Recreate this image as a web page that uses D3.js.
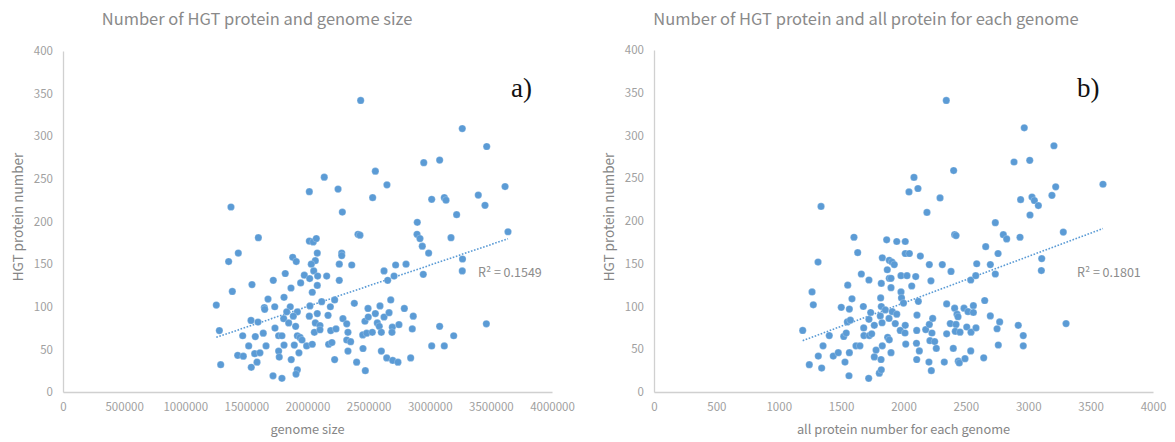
<!DOCTYPE html>
<html>
<head>
<meta charset="utf-8">
<script src="https://cdn.jsdelivr.net/npm/d3@7"></script>
<style>
  body { margin: 0; background: #fff; }
  svg { display: block; }
</style>
</head>
<body>
<svg id="chart" width="1175" height="442"></svg>
<script>
// ---- data -------------------------------------------------------------
// Panel a: genome size (bp) vs number of HGT proteins
const genomeSize = [
  1374000,1598000,1434000,1355000,1546000,1385000,1254000,1279000,1290000,
  2137000,2015000,2250000,2555000,2650000,2533000,2285000,
  2015000,2047000,2072000,2413000,2429000,
  2080000,2280000,2280000,1879000,1908000,2064000,2031000,2260000,2362000,2051000,
  1818000,1974000,2018000,2083000,2157000,1720000,1944000,2260000,1865000,2080000,
  2039000,1677000,1808000,1647000,1650000,1732000,1859000,2020000,2116000,2187000,
  2222000,2383000,2495000,2593000,2681000,2792000,1830000,1917000,1884000,2015000,
  2080000,2168000,2290000,2470000,2555000,2626000,2667000,2865000,1538000,1595000,
  1805000,1846000,1903000,2064000,2102000,2321000,2497000,2571000,2587000,2694000,
  2748000,1470000,1573000,1638000,1734000,1764000,1791000,1917000,1939000,2056000,
  2102000,2190000,2233000,2331000,2452000,2484000,2530000,2604000,2691000,2857000,
  1519000,1661000,1808000,1892000,1955000,1993000,2039000,2173000,2200000,2321000,
  2353000,2454000,1429000,1475000,1568000,1611000,1764000,1930000,2331000,2604000,
  1769000,1587000,1540000,1867000,2222000,2402000,2648000,2697000,2740000,2844000,
  1718000,1791000,1917000,1906000,2473000,
  2435000,3266000,3466000,2951000,3081000,3016000,3119000,3133000,3397000,3616000,
  3452000,3220000,2898000,2896000,2920000,2939000,3174000,2991000,3640000,3268000,
  3266000,2947000,2806000,2721000,2626000,2656000,2708000,3463000,3081000,3196000,
  3016000,3119000
];
const hgtA = [
  217,181,163,153,126,118,102,72,32,
  252,235,238,259,243,228,211,
  177,176,180,185,184,
  163,163,160,158,153,154,150,150,149,142,
  139,137,133,136,136,131,128,131,122,125,
  117,109,111,99,97,100,100,101,106,100,
  108,104,98,101,108,98,94,94,89,89,
  92,90,86,83,92,88,93,89,84,82,
  86,81,77,81,78,80,88,81,77,76,
  79,66,65,69,75,66,66,66,64,70,
  73,72,74,70,67,69,70,70,70,74,
  54,54,55,55,61,54,56,56,58,61,
  59,51,43,42,45,46,48,46,48,48,
  41,35,29,38,38,35,40,37,35,40,
  19,16,26,21,25,
  342,309,288,269,272,226,228,225,231,241,
  219,208,199,185,180,171,181,163,188,156,
  142,138,150,149,142,131,136,80,77,66,
  54,54
];

// Panel b: total protein count per genome vs number of HGT proteins
const proteinCount = [
  1339,1603,1633,1315,1662,1553,1267,1277,1192,1245,
  1344,1317,1355,1405,1437,1477,1531,1563,1566,1521,
  1541,1550,1574,1501,1566,1587,1678,1723,1619,1651,
  1683,1726,1745,1681,1723,1737,1766,1721,1780,1766,
  1820,1806,1822,1830,1873,1886,1900,1817,1822,1822,
  1830,1865,1870,1886,1908,1926,1886,1900,1900,1946,
  2014,2014,2047,2135,1980,2028,2098,2066,1980,1984,
  2000,1854,1910,1946,1814,1828,1884,1934,2014,1974,
  2012,2018,2108,2106,2104,2127,2106,2119,2207,2220,
  2311,2381,2178,2207,2234,2228,2212,2250,2263,2204,
  2223,2327,2346,2346,2410,2429,2437,2375,2421,2415,
  2453,2399,2439,2447,2485,2517,2560,2560,2507,2541,
  2581,2539,2493,2651,2696,2771,2750,2760,2643,2539,
  2579,2587,2659,2696,2736,2758,2736,2800,2827,2084,
  2044,2116,2402,2293,2188,2410,2421,2343,2968,3206,
  2886,3012,3599,3220,3190,2939,3030,3049,3081,3014,
  3281,2934,3108,3105,3303,2920,2960,2960
];
const hgtB = [
  217,181,163,152,138,125,117,102,72,32,
  28,42,54,66,42,46,35,19,46,65,
  69,82,84,99,97,109,100,131,54,54,
  66,66,68,75,85,93,78,16,49,41,
  38,22,26,54,64,61,46,110,100,127,
  157,178,143,154,152,149,133,133,122,176,
  176,162,162,159,136,136,135,124,117,110,
  104,96,94,91,89,81,86,80,78,72,
  69,56,90,72,57,48,38,106,149,130,
  149,141,73,79,86,69,60,59,51,35,
  25,35,103,68,98,91,88,80,79,71,
  70,51,36,34,98,94,101,93,76,70,
  75,48,39,107,89,82,74,55,40,131,
  136,150,170,149,138,162,198,184,179,251,
  234,238,259,227,210,184,183,341,309,288,
  269,271,243,240,230,225,228,224,218,207,
  187,181,156,142,80,78,66,54
];

// Axis ticks
const yTicks = [0, 50, 100, 150, 200, 250, 300, 350, 400];
const xTicksA = [0, 500000, 1000000, 1500000, 2000000, 2500000, 3000000, 3500000, 4000000];
const xTicksB = [0, 500, 1000, 1500, 2000, 2500, 3000, 3500, 4000];

// Text
const titleA = "Number of HGT protein and genome size";
const titleB = "Number of HGT protein and all protein for each genome";
const xTitleA = "genome size";
const xTitleB = "all protein number for each genome";
const yTitle = "HGT protein number";
const r2A = "R\u00B2 = 0.1549";
const r2B = "R\u00B2 = 0.1801";

// ---- drawing ----------------------------------------------------------
const FONT = "'Noto Sans CJK JP', 'Noto Sans', sans-serif";
const BLUE = "#5B9BD5";
const svg = d3.select("#chart").attr("font-family", FONT);
svg.append("rect").attr("width", 1175).attr("height", 442).attr("fill", "#fff");

function drawPanel(p) {
  const g = svg.append("g");
  const x = d3.scaleLinear().domain([0, p.xTicks[p.xTicks.length - 1]]).range([p.left, p.right]);
  const y = d3.scaleLinear().domain([0, 400]).range([p.bottom, p.top]);

  const xAxis = g.append("g")
    .attr("transform", `translate(0,${p.bottom})`)
    .call(d3.axisBottom(x).tickValues(p.xTicks).tickSize(0).tickPadding(11).tickFormat(d3.format("d")));
  const yAxis = g.append("g")
    .attr("transform", `translate(${p.left},0)`)
    .call(d3.axisLeft(y).tickValues(yTicks).tickSize(0).tickPadding(10).tickFormat(d3.format("d")));
  [xAxis, yAxis].forEach(a => {
    a.select(".domain").attr("stroke", "#d0d0d0").attr("stroke-width", 1.3);
    a.selectAll("text").attr("fill", "#a0a0a0").attr("font-size", "11.5px").attr("font-family", FONT);
  });

  // least-squares trendline over the data range
  const n = p.xs.length;
  const mx = d3.mean(p.xs), my = d3.mean(p.ys);
  let sxy = 0, sxx = 0;
  for (let i = 0; i < n; i++) {
    sxy += (p.xs[i] - mx) * (p.ys[i] - my);
    sxx += (p.xs[i] - mx) ** 2;
  }
  const slope = sxy / sxx, icpt = my - slope * mx;
  const [x0, x1] = d3.extent(p.xs);
  g.append("line")
    .attr("x1", x(x0)).attr("y1", y(icpt + slope * x0))
    .attr("x2", x(x1)).attr("y2", y(icpt + slope * x1))
    .attr("stroke", BLUE).attr("stroke-width", 1.6)
    .attr("stroke-dasharray", "1.6 1.6");

  // markers
  g.append("g").selectAll("circle")
    .data(p.xs.map((v, i) => [v, p.ys[i]]))
    .join("circle")
    .attr("cx", d => x(d[0]))
    .attr("cy", d => y(d[1]))
    .attr("r", 3.6)
    .attr("fill", BLUE)
    .attr("stroke", "#ffffff")
    .attr("stroke-opacity", 0.35)
    .attr("stroke-width", 0.6);

  // titles and labels
  g.append("text").text(p.title)
    .attr("x", p.titleX).attr("y", 25)
    .attr("text-anchor", "middle").attr("font-size", "16.5px").attr("fill", "#8a8a8a");
  g.append("text").text(p.xTitle)
    .attr("x", (p.left + p.right) / 2).attr("y", 434)
    .attr("text-anchor", "middle").attr("font-size", "12.8px").attr("fill", "#858585");
  g.append("text").text(yTitle)
    .attr("transform", `translate(${p.yTitleX},217) rotate(-90)`)
    .attr("text-anchor", "middle").attr("font-size", "13.5px").attr("fill", "#858585");
  g.append("text").text(p.r2)
    .attr("x", p.r2X).attr("y", 277)
    .attr("font-size", "12.5px").attr("fill", "#8c8c8c");
  g.append("text").text(p.tag)
    .attr("x", p.tagX).attr("y", 97)
    .attr("font-family", "'Liberation Serif', 'DejaVu Serif', serif")
    .attr("font-size", "27px").attr("fill", "#111");
}

drawPanel({
  xs: genomeSize, ys: hgtA, xTicks: xTicksA,
  left: 63, right: 552, top: 51, bottom: 392,
  title: titleA, titleX: 257, xTitle: xTitleA, yTitleX: 23,
  r2: r2A, r2X: 478, tag: "a)", tagX: 511
});
drawPanel({
  xs: proteinCount, ys: hgtB, xTicks: xTicksB,
  left: 654, right: 1153, top: 50, bottom: 392,
  title: titleB, titleX: 866, xTitle: xTitleB, yTitleX: 614,
  r2: r2B, r2X: 1077, tag: "b)", tagX: 1077
});
</script>
</body>
</html>
